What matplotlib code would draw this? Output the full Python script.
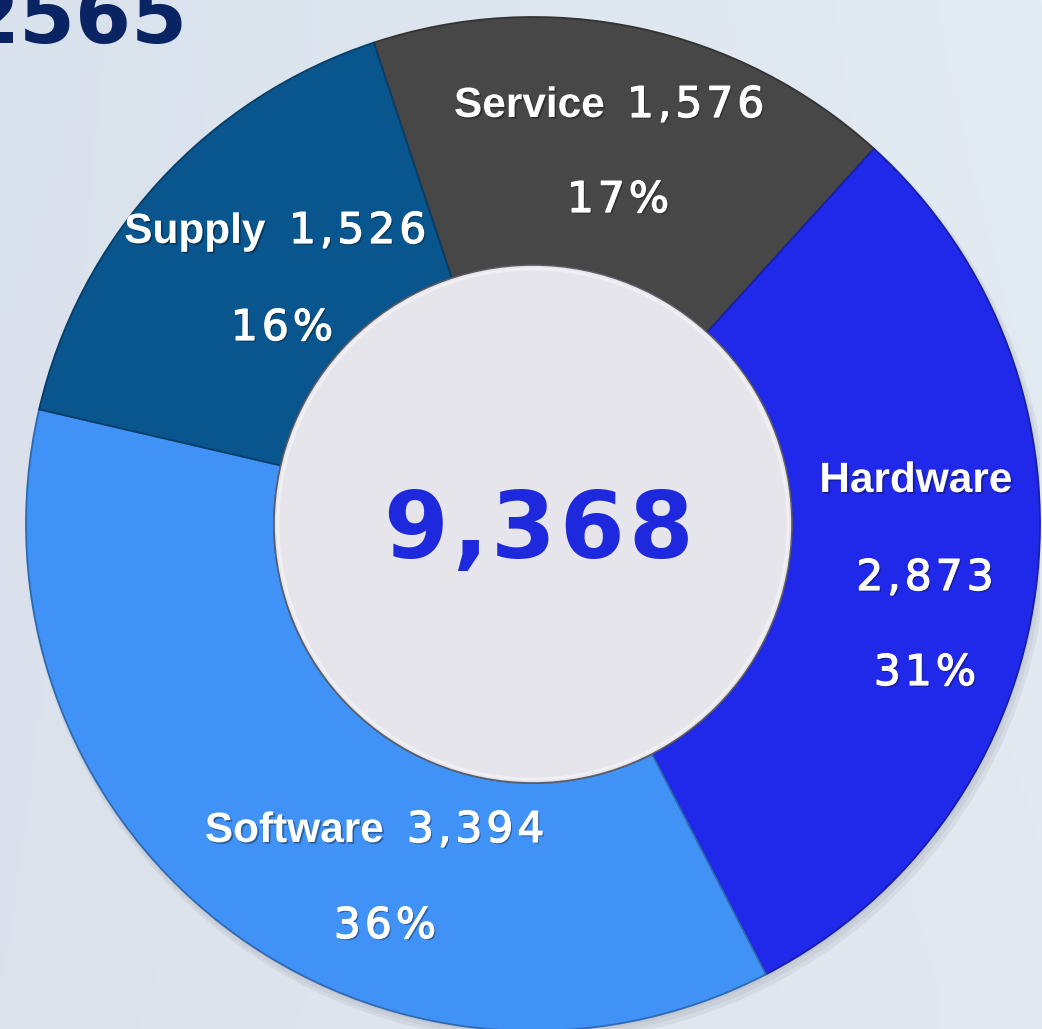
import matplotlib
matplotlib.use('Agg')
import matplotlib.pyplot as plt
import numpy as np
from matplotlib.patches import Circle, Wedge
import matplotlib.patheffects as pe
from matplotlib.colors import to_rgb
from matplotlib.font_manager import FontProperties, findfont
from matplotlib.ft2font import FT2Font

# ---- data ----
categories = ['Service', 'Hardware', 'Software', 'Supply']
values = [1576, 2873, 3394, 1526]
value_labels = ['1,576', '2,873', '3,394', '1,526']
percent_labels = ['17%', '31%', '36%', '16%']
total_label = '9,368'
year_label = '2565'
colors = ['#474747', '#2029EA', '#4192F7', '#09568F']

# ---- layout (pixels) ----
W, H = 1042, 1029
CX, CY, R = 533, 524, 507
RIN = 259

fig = plt.figure(figsize=(W / 100, H / 100), dpi=100)

# background gradient
bg = fig.add_axes([0, 0, 1, 1])
bg.axis('off')
xx = np.linspace(0, 1, 200)
yy = np.linspace(0, 1, 200)
X, Y = np.meshgrid(xx, yy)
c1 = np.array(to_rgb('#D9E1EC'))
c2 = np.array(to_rgb('#E3EBF3'))
c3 = np.array(to_rgb('#E2E4EC'))
t = X[..., None]
img = c1 * (1 - t) + c2 * t
img = img * (1 - 0.35 * Y[..., None]) + c3 * (0.35 * Y[..., None])
bg.imshow(img, extent=[0, 1, 0, 1], aspect='auto', origin='upper')
bg.set_xlim(0, 1)
bg.set_ylim(0, 1)

ax = fig.add_axes([(CX - R) / W, (H - CY - R) / H, 2 * R / W, 2 * R / H])


def P(px, py):
    return ((px - CX) / R, (CY - py) / R)


# soft drop shadow
for k, a in enumerate([0.06, 0.06, 0.07]):
    off = (3 + 2 * k) / R
    ax.add_patch(Wedge((off * 0.6, -off), 1.0 + k * 2 / R, 0, 360,
                       width=(R - RIN) / R, facecolor='#3a4050', alpha=a,
                       edgecolor='none', zorder=0))

wedges, _ = ax.pie(values, colors=colors, startangle=108.3, counterclock=False,
                   radius=1, wedgeprops=dict(width=(R - RIN) / R, linewidth=1.3))
for w, c in zip(wedges, colors):
    rgb = np.array(to_rgb(c))
    w.set_edgecolor(tuple(rgb * 0.72))
    w.set_zorder(2)

# hole
ax.add_patch(Circle((0, 0), RIN / R, facecolor='#E5E5EB', edgecolor='#5c5c66',
                    linewidth=1.2, zorder=3))
ax.add_patch(Circle((0, 0), (RIN - 4) / R, facecolor='none', edgecolor='#f4f4f8',
                    linewidth=2, alpha=0.7, zorder=3))

ax.set_xlim(-1, 1)
ax.set_ylim(-1, 1)
ax.set_aspect('equal')
ax.axis('off')

shadow = pe.withSimplePatchShadow(offset=(1.2, -1.2), shadow_rgbFace='black', alpha=0.35)
word_fp = FontProperties(family='Liberation Sans', weight='bold', size=30.5)
num_fp = FontProperties(family='DejaVu Sans', size=30.5)
big_fp = FontProperties(family='DejaVu Sans', weight='bold', size=67)


def advances(s, fp):
    f = FT2Font(findfont(fp))
    f.set_size(fp.get_size_in_points(), 100)
    out = []
    for ch in s:
        g = f.load_char(ord(ch))
        out.append(g.linearHoriAdvance / 65536.0)
    return out


def tracked(px, py, s, fp, ha='center', track=0.0, **kw):
    adv = advances(s, fp)
    total = sum(adv) + track * (len(s) - 1)
    if ha == 'center':
        x = px - total / 2
    elif ha == 'left':
        x = px
    else:
        x = px - total
    for ch, a in zip(s, adv):
        ax.text(*P(x, py), ch, ha='left', va='baseline', fontproperties=fp, **kw)
        x += a + track


num_kw = dict(color='white', zorder=5,
              path_effects=[shadow, pe.Stroke(linewidth=0.9, foreground='white'), pe.Normal()])
word_kw = dict(color='white', zorder=5, path_effects=[shadow])

# label layout: word right x / number left x / baseline; pct center x / baseline
layout = {
    'Service': dict(word=(605, 117), num=(627, 117), pct=(618, 212)),
    'Supply': dict(word=(266, 243), num=(289, 243), pct=(282, 340)),
    'Software': dict(word=(384, 842), num=(407, 842), pct=(385, 938)),
}
TR = 4.0
for cat, vl, pl in zip(categories, value_labels, percent_labels):
    if cat in layout:
        L = layout[cat]
        ax.text(*P(*L['word']), cat, ha='right', va='baseline', fontproperties=word_fp, **word_kw)
        tracked(*L['num'], vl, num_fp, ha='left', track=TR, **num_kw)
        tracked(*L['pct'], pl, num_fp, ha='center', track=TR, **num_kw)
    else:
        ax.text(*P(916, 492), cat, ha='center', va='baseline', fontproperties=word_fp, **word_kw)
        tracked(925, 590, vl, num_fp, ha='center', track=TR, **num_kw)
        tracked(925, 685, pl, num_fp, ha='center', track=TR, **num_kw)

tracked(538, 558, total_label, big_fp, ha='center', track=4.0, color='#1E28DD', zorder=6)

fig.text(188 / W, 1 - 43 / H, year_label, ha='right', va='baseline',
         family='DejaVu Sans', fontweight='bold', fontsize=58, color='#0A2463')

fig.savefig('out.png', dpi=100)
